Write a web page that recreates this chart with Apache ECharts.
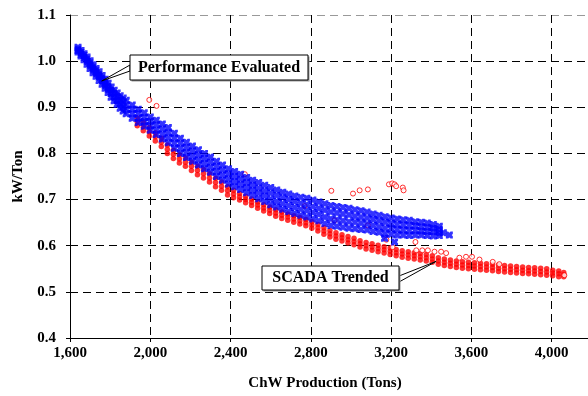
<!DOCTYPE html>
<html>
<head>
<meta charset="utf-8">
<script src="https://cdn.jsdelivr.net/npm/echarts@6/dist/echarts.min.js"></script>
<style>
  html, body { margin: 0; padding: 0; background: #fff; overflow: hidden; }
  /* the plot runs past the right edge of the 588px picture, so the chart is wider and clipped */
  #chart { width: 640px; height: 396px; }
</style>
</head>
<body>
<div id="chart"></div>
<script>
// x ticks / y ticks
const xTicks = [1600, 2000, 2400, 2800, 3200, 3600, 4000];
const yTicks = [0.4, 0.5, 0.6, 0.7, 0.8, 0.9, 1.0, 1.1];

// "Performance Evaluated" band, read column by column (tons -> kW/Ton values)
const blueTons = [1640,1655,1670,1685,1700,1715,1730,1745,1760,1775,1790,1805,1820,1835,1850,1865,1880,1910,1940,1970,
  2000,2030,2060,2090,2120,2150,2180,2210,
  2240,2270,2300,2330,2360,2390,2420,2450,2480,2510,2540,2570,2600,2630,2660,2690,2720,2750,2780,2810,
  2840,2870,2900,2930,2960,2990,3020,3050,3080,3110,3140,3170,3200,3230,3260,3290,3320,3350,3380,3410,3440];
const blueKw = [
  [1.030,1.026,1.023,1.020],[1.023,1.019,1.015,1.011],[1.016,1.012,1.008,1.003],[1.009,1.004,0.999,0.993],
  [1.001,0.996,0.990,0.984],[0.992,0.987,0.981,0.975],[0.984,0.979,0.973,0.967],[0.977,0.971,0.965,0.958],
  [0.969,0.963,0.957,0.950],[0.961,0.954,0.947,0.941],[0.952,0.945,0.938,0.932],[0.944,0.937,0.930,0.922],
  [0.937,0.930,0.922,0.914],[0.931,0.923,0.914,0.906],[0.925,0.916,0.907,0.898],[0.920,0.911,0.901,0.892],
  [0.915,0.905,0.896,0.886],[0.905,0.896,0.886,0.876],[0.896,0.887,0.876,0.867],[0.888,0.878,0.869,0.859],
  [0.879,0.870,0.860,0.850],[0.872,0.862,0.851,0.841],[0.864,0.853,0.842,0.831],[0.856,0.845,0.834,0.823],
  [0.844,0.833,0.822,0.811],[0.833,0.822,0.811,0.800],[0.824,0.813,0.802,0.791],[0.816,0.805,0.794,0.783],
  [0.808,0.797,0.786,0.775],[0.800,0.789,0.778,0.767],[0.792,0.781,0.770,0.759],[0.783,0.772,0.761,0.750],
  [0.775,0.764,0.753,0.742],[0.767,0.756,0.745,0.734],[0.761,0.750,0.739,0.728],[0.755,0.744,0.733,0.722],
  [0.748,0.737,0.726,0.715],[0.742,0.731,0.720,0.709],[0.737,0.725,0.714,0.702],[0.731,0.719,0.708,0.696],
  [0.726,0.714,0.701,0.689],[0.721,0.709,0.696,0.684],[0.716,0.704,0.691,0.679],[0.712,0.700,0.687,0.674],
  [0.708,0.696,0.683,0.670],[0.705,0.692,0.679,0.666],[0.703,0.689,0.676,0.662],[0.699,0.685,0.672,0.658],
  [0.695,0.681,0.668,0.654],[0.691,0.677,0.662,0.648],[0.687,0.673,0.658,0.644],[0.685,0.671,0.656,0.642],
  [0.683,0.669,0.654,0.640],[0.681,0.667,0.652,0.638],[0.678,0.664,0.651,0.637],[0.676,0.662,0.649,0.635],
  [0.673,0.660,0.647,0.634],[0.669,0.657,0.644,0.631],[0.666,0.654,0.641,0.629],[0.663,0.651,0.638,0.626],
  [0.660,0.648,0.637,0.625],[0.658,0.646,0.635,0.623],[0.656,0.645,0.634,0.623],[0.655,0.644,0.633,0.622],
  [0.652,0.643,0.633,0.623],[0.651,0.641,0.632,0.623],[0.649,0.640,0.631,0.622],[0.646,0.638,0.630,0.621],
  [0.642,0.635,0.628,0.622]
];
const blueStray = [[3167,0.616],[3217,0.608],[3460,0.628],[3490,0.623]];

// "SCADA Trended" band
const redTons = [1935,1965,1995,2025,2055,2085,2115,2145,2175,2205,2235,2265,2295,2325,2355,2385,2415,2445,2475,2505,
  2535,2565,2595,2625,2655,2685,2715,2745,2775,2805,2835,2865,2895,2925,2955,2985,3015,3045,3075,3105,
  3135,3165,3195,3225,3255,3285,3315,3345,3375,3405,3435,3465,3495,3525,3555,3585,3615,3645,3675,3705,
  3735,3765,3795,3825,3855,3885,3915,3945,3975,4005,4035,4060];
const redKw = [
  [0.877,0.868,0.860],[0.867,0.858,0.849],[0.856,0.847,0.838],[0.845,0.836,0.827],[0.833,0.824,0.815],
  [0.818,0.809,0.800],[0.807,0.798,0.789],[0.797,0.788,0.779],[0.790,0.781,0.772],[0.781,0.772,0.763],
  [0.772,0.763,0.754],[0.765,0.756,0.747],[0.756,0.747,0.738],[0.746,0.737,0.728],[0.738,0.729,0.720],
  [0.728,0.719,0.710],[0.720,0.712,0.704],[0.713,0.706,0.699],[0.707,0.700,0.693],[0.701,0.694,0.687],
  [0.695,0.688,0.681],[0.689,0.682,0.675],[0.684,0.677,0.670],[0.678,0.671,0.664],[0.673,0.666,0.659],
  [0.669,0.662,0.655],[0.665,0.658,0.651],[0.661,0.654,0.647],[0.657,0.650,0.643],[0.652,0.645,0.638],
  [0.646,0.639,0.632],[0.639,0.632,0.625],[0.633,0.626,0.619],[0.628,0.621,0.614],[0.624,0.617,0.610],
  [0.620,0.613,0.606],[0.616,0.609,0.602],[0.611,0.604,0.597],[0.607,0.600,0.593],[0.604,0.597,0.590],
  [0.601,0.594,0.587],[0.598,0.591,0.584],[0.595,0.588,0.581],[0.592,0.585,0.578],[0.589,0.582,0.575],
  [0.587,0.580,0.573],[0.585,0.578,0.571],[0.583,0.576,0.569],[0.581,0.574,0.567],[0.578,0.571,0.564],
  [0.574,0.567,0.560],[0.571,0.564,0.557],[0.569,0.562,0.555],[0.567,0.560,0.553],[0.565,0.558,0.551],
  [0.564,0.557,0.550],[0.563,0.556,0.549],[0.562,0.555,0.548],[0.561,0.554,0.547],[0.560,0.553,0.546],
  [0.558,0.551,0.544],[0.557,0.550,0.543],[0.556,0.549,0.542],[0.555,0.548,0.541],[0.554,0.547,0.540],
  [0.553,0.546,0.539],[0.552,0.545,0.538],[0.551,0.544,0.537],[0.550,0.543,0.536],[0.547,0.541,0.535],
  [0.545,0.539,0.533],[0.542,0.537,0.533]
];
// scattered SCADA points away from the band
const redOutliers = [
  [1995,0.916],[2031,0.903],[2471,0.755],[2902,0.719],[3010,0.713],[3043,0.720],[3084,0.722],
  [3189,0.733],[3205,0.735],[3217,0.733],[3225,0.729],[3258,0.726],[3262,0.720],
  [2769,0.686],[2918,0.655],[3084,0.644],[3176,0.613],[3321,0.608],[3207,0.597],
  [3325,0.590],[3355,0.590],[3383,0.590],[3416,0.587],[3449,0.587],[3474,0.584],
  [3540,0.574],[3573,0.576],[3603,0.576],[3640,0.570],[3706,0.565],[3739,0.560],[4063,0.536]
];

const bluePoints = blueTons.flatMap((t, i) => blueKw[i].map(v => [t, v])).concat(blueStray);
const redPoints = redTons.flatMap((t, i) => redKw[i].map(v => [t, v]));

const serif = "'Liberation Serif', 'Times New Roman', serif";
// chunky "x" marker, like the spreadsheet's blue asterisks
const xMark = 'path://M0,0H2L3,1L4,0H6V2L5,3L6,4V6H4L3,5L2,6H0V4L1,3L0,2Z';

const chart = echarts.init(document.getElementById('chart'));

chart.setOption({
  animation: false,
  backgroundColor: '#fff',
  grid: { left: 70, top: 15, right: 8, bottom: 58 },
  xAxis: {
    type: 'value',
    min: xTicks[0],
    max: 4400,
    interval: 400,
    name: 'ChW Production (Tons)',
    nameLocation: 'middle',
    nameGap: 38,
    nameTextStyle: { fontFamily: serif, fontWeight: 'bold', fontSize: 15, color: '#000', padding: [0, 52, 0, 0] },
    axisLine: { lineStyle: { color: '#000', width: 1 } },
    axisTick: { show: true, length: 4, lineStyle: { color: '#000' } },
    axisLabel: {
      fontFamily: serif, fontWeight: 'bold', fontSize: 15, color: '#000', margin: 8,
      formatter: v => xTicks.indexOf(v) >= 0 ? v.toLocaleString('en-US') : ''
    },
    splitLine: { show: true, lineStyle: { color: '#000', type: [8, 5], width: 1 } }
  },
  yAxis: {
    type: 'value',
    min: yTicks[0],
    max: yTicks[yTicks.length - 1],
    interval: 0.1,
    name: 'kW/Ton',
    nameLocation: 'middle',
    nameGap: 44,
    nameTextStyle: { fontFamily: serif, fontWeight: 'bold', fontSize: 15, color: '#000' },
    axisLine: { show: true, lineStyle: { color: '#000', width: 1 } },
    axisTick: { show: true, length: 4, lineStyle: { color: '#000' } },
    axisLabel: {
      fontFamily: serif, fontWeight: 'bold', fontSize: 15, color: '#000', margin: 14,
      formatter: v => v.toFixed(1)
    },
    splitLine: {
      show: true,
      lineStyle: { color: ['#000', '#000', '#000', '#000', '#000', '#000', '#000', '#999'], type: [8, 5], width: 1 }
    }
  },
  series: [
    {
      name: 'SCADA Trended',
      type: 'scatter',
      data: redPoints,
      symbol: 'circle',
      symbolSize: 5.5,
      itemStyle: { color: '#ff0000' },
      z: 2
    },
    {
      name: 'SCADA Trended outliers',
      type: 'scatter',
      data: redOutliers,
      symbol: 'circle',
      symbolSize: 5,
      itemStyle: { color: '#fff', borderColor: '#ff0000', borderWidth: 1 },
      z: 2
    },
    {
      name: 'Performance Evaluated',
      type: 'scatter',
      data: bluePoints,
      symbol: xMark,
      symbolSize: 7,
      itemStyle: { color: '#0000ff' },
      z: 3
    }
  ]
});

// callout labels
function callout(box, tip, text, side) {
  const y0 = box.y + 10, y1 = box.y + 16;
  const x0 = side === 'left' ? box.x : box.x + box.width;
  return [
    { type: 'polygon', z: 10, shape: { points: [[x0, y0], tip, [x0, y1]] },
      style: { fill: '#fff', stroke: '#000', lineWidth: 1 } },
    { type: 'rect', z: 10, shape: { x: box.x + 1.5, y: box.y + 1.5, width: box.width, height: box.height },
      style: { fill: '#999' } },
    { type: 'rect', z: 11, shape: box, style: { fill: '#fff', stroke: '#000', lineWidth: 1 } },
    { type: 'text', z: 12, x: box.x + box.width / 2, y: box.y + box.height / 2,
      style: { text: text, fill: '#000', font: 'bold 16px ' + serif, align: 'center', verticalAlign: 'middle' } }
  ];
}

const tipPerf = chart.convertToPixel({ gridIndex: 0 }, [1758, 0.957]);
const tipScada = chart.convertToPixel({ gridIndex: 0 }, [3424, 0.566]);

chart.setOption({
  graphic: [].concat(
    callout({ x: 130, y: 55, width: 178, height: 25 }, tipPerf, 'Performance Evaluated', 'left'),
    callout({ x: 262, y: 266, width: 137, height: 24 }, tipScada, 'SCADA Trended', 'right')
  )
});
</script>
</body>
</html>
